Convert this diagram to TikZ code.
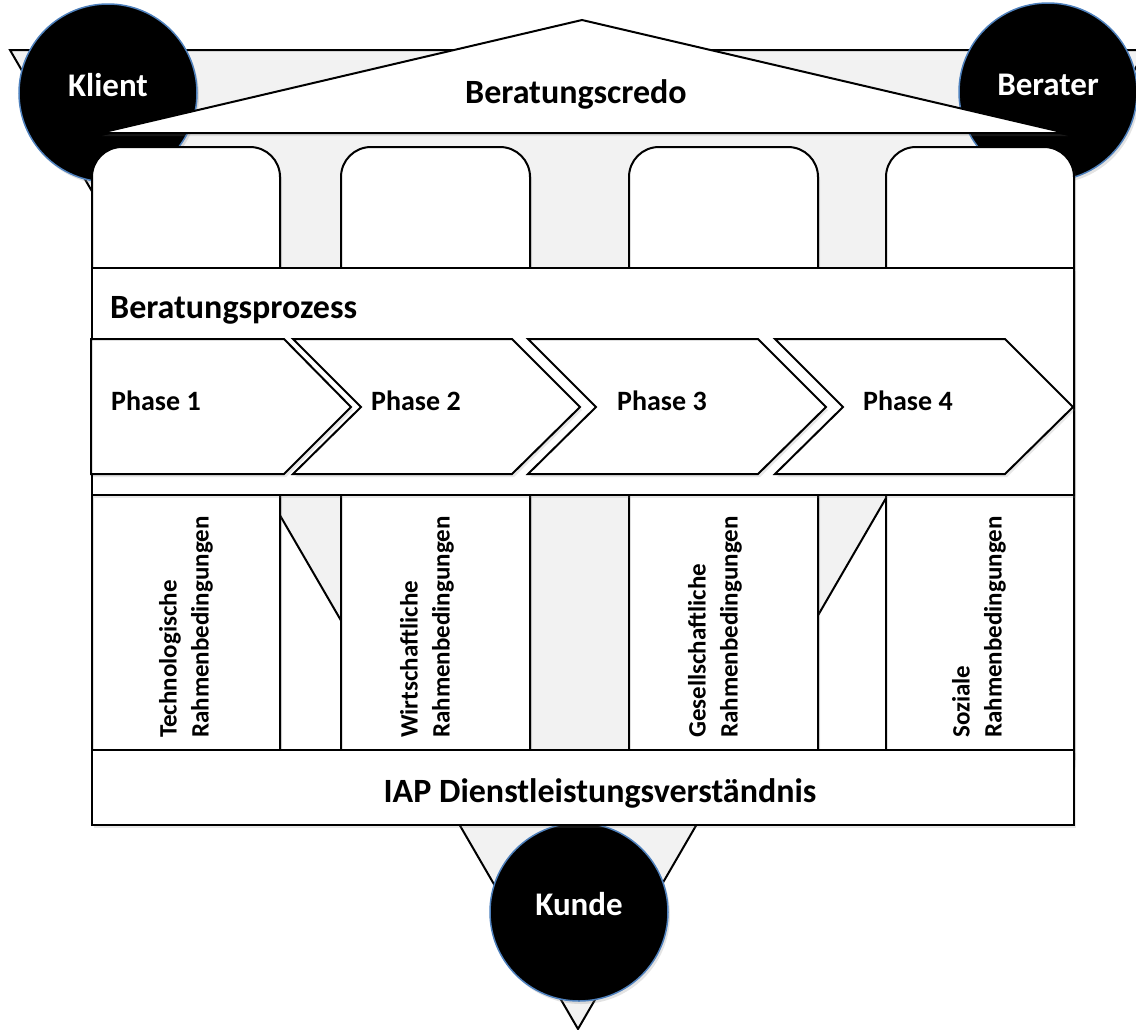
\documentclass[tikz,border=0pt]{standalone}
\usepackage{fontspec}
\setmainfont{Carlito}
\usetikzlibrary{shadows}
\definecolor{credogray}{HTML}{F2F2F2}
\definecolor{ringblue}{HTML}{4F81BD}

\begin{document}
\begin{tikzpicture}[x=1pt, y=-1pt,
    panel/.style={draw=black, line width=2pt, fill=white,
        drop shadow={opacity=0.18, shadow xshift=2pt, shadow yshift=-3pt}},
    person/.style={circle, fill=black, draw=ringblue, line width=1.5pt, minimum size=178pt,
        text=white, font=\bfseries\fontsize{33}{38}\selectfont, text height=24pt, text depth=17pt,
        drop shadow={opacity=0.22, shadow xshift=2pt, shadow yshift=-3pt}},
    heading/.style={font=\bfseries\fontsize{34}{40}\selectfont, inner sep=0pt},
    phase/.style={font=\bfseries\fontsize{28}{32}\selectfont, inner sep=0pt, anchor=base west},
    rahmen/.style={rotate=90, anchor=west, align=left, inner sep=0pt,
        font=\bfseries\fontsize{25}{32}\selectfont}]
    \useasboundingbox (0,0) rectangle (1136,1029);
    \clip (0,0) rectangle (1136,1029);

    % Background triangle
    \filldraw[fill=credogray, line width=2pt] (10,50) -- (1146,50) -- (578,1029) -- cycle;

    % Persons
    \node[person] (klient) at (108,93) {Klient};
    \node[person] (berater) at (1048,92) {Berater};
    \node[person] (kunde) at (579,912) {Kunde};

    % Roof
    \path[panel] (100,133) -- (582,20) -- (1066,133) -- cycle;
    \node[heading, anchor=base] (credo) at (576,103) {Beratungscredo};

    % Pillars
    \foreach \xa/\xb in {92/280, 341/530, 629/818, 886/1074}
        \path[panel, rounded corners=30pt] (\xa,147) rectangle (\xb,790);

    % Process
    \path[panel] (92,268) rectangle (1074,495);
    \node[heading, anchor=base west] (prozess) at (110,318) {Beratungsprozess};

    % Phases
    \path[panel] (91,339) -- (284,339) -- (351,407) -- (284,474) -- (91,474) -- cycle;
    \foreach \xa/\xb in {293/512, 528/758, 775/1005}
        \path[panel] (\xa,339) -- (\xb,339) -- (\xb+68,407) -- (\xb,474) -- (\xa,474) -- (\xa+68,407) -- cycle;
    \foreach \n/\xt in {1/111, 2/371, 3/617, 4/863}
        \node[phase] (phase\n) at (\xt,410) {Phase \n};

    % Framework conditions
    \node[rahmen] (tech) at (186,738) {Technologische\\Rahmenbedingungen};
    \node[rahmen] (wirt) at (427,738) {Wirtschaftliche\\Rahmenbedingungen};
    \node[rahmen] (ges) at (715,738) {Gesellschaftliche\\Rahmenbedingungen};
    \node[rahmen] (soz) at (979,738) {Soziale\\Rahmenbedingungen};

    % Base
    \path[panel] (92,750) rectangle (1074,825);
    \node[heading, anchor=base] (iap) at (600,802) {IAP Dienstleistungsverständnis};
\end{tikzpicture}
\end{document}
